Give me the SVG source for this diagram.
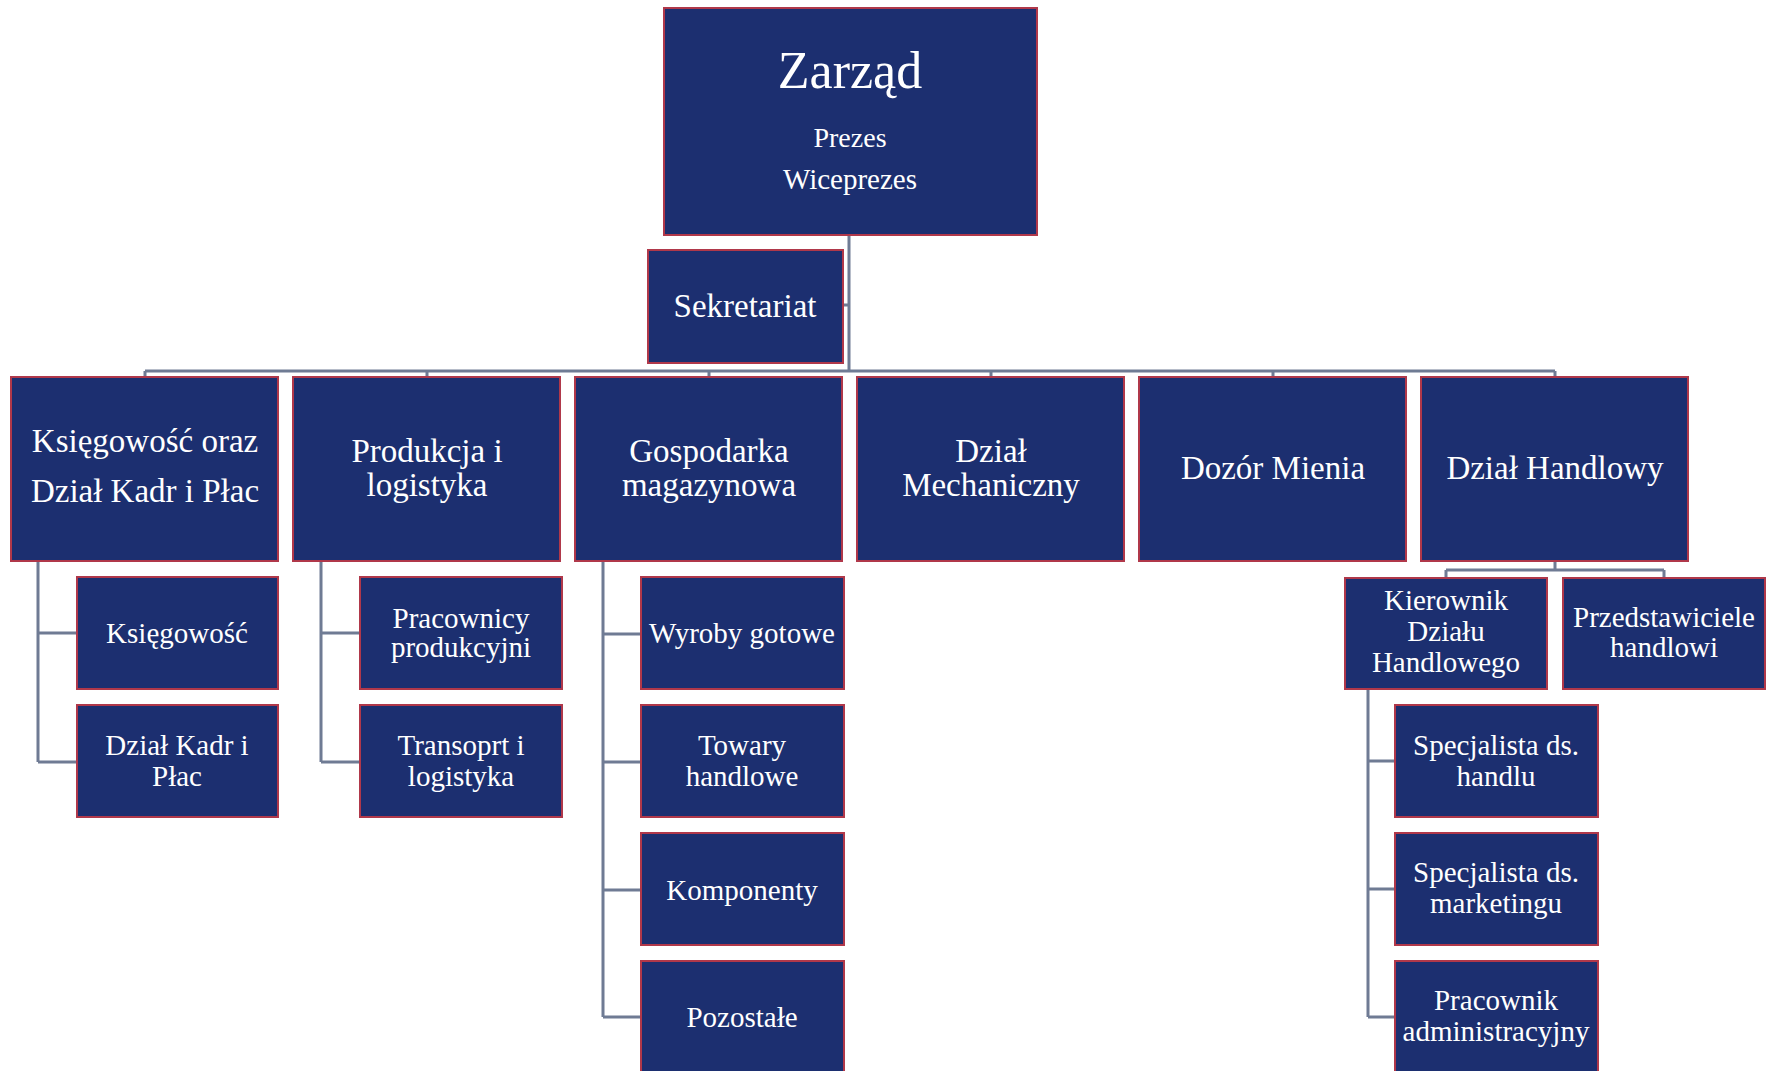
<svg xmlns="http://www.w3.org/2000/svg" width="1777" height="1071" viewBox="0 0 1777 1071">
<style>
.box{fill:#1c2f70;stroke:#b0384a;stroke-width:2}
.t{fill:#ffffff;font-family:"Liberation Serif","DejaVu Serif",serif;text-anchor:middle}
.l1{font-size:33px}
.l2{font-size:29px}
.c{fill:none;stroke:#6f7b94;stroke-width:3}
</style>
<rect width="1777" height="1071" fill="#ffffff"/>
<g id="connectors">
<path class="c" d="M849,235 V371 M843,305 H849 M145,371 H1555"/>
<path class="c" d="M145,371 V377 M427,371 V377 M709,371 V377 M991,371 V377 M1273,371 V377 M1555,371 V377"/>
<path class="c" d="M38,561 V762 M38,633 H77 M38,762 H77"/>
<path class="c" d="M321,561 V762 M321,633 H360 M321,762 H360"/>
<path class="c" d="M603,561 V1017 M603,634 H641 M603,762 H641 M603,890 H641 M603,1017 H641"/>
<path class="c" d="M1555,561 V570 M1446,570 H1664 M1446,570 V578 M1664,570 V578"/>
<path class="c" d="M1368,689 V1017 M1368,761 H1395 M1368,889 H1395 M1368,1017 H1395"/>
</g>
<g id="zarzad"><rect class="box" x="664" y="8" width="373" height="227"/>
<text class="t" x="850" y="88" font-size="52">Zarząd</text>
<text class="t" x="850" y="147" font-size="28">Prezes</text>
<text class="t" x="850" y="189" font-size="29">Wiceprezes</text></g>
<g id="sekretariat"><rect class="box" x="648" y="250" width="195" height="113"/>
<text class="t l1" x="745" y="317">Sekretariat</text></g>

<g id="ksiegowosc-oraz"><rect class="box" x="11" y="377" width="267" height="184"/>
<text class="t l1" x="145" y="452">Księgowość oraz</text>
<text class="t l1" x="145" y="502">Dział Kadr i Płac</text></g>
<g id="produkcja"><rect class="box" x="293" y="377" width="267" height="184"/>
<text class="t l1" x="427" y="462">Produkcja i</text>
<text class="t l1" x="427" y="496">logistyka</text></g>
<g id="gospodarka"><rect class="box" x="575" y="377" width="267" height="184"/>
<text class="t l1" x="709" y="462">Gospodarka</text>
<text class="t l1" x="709" y="496">magazynowa</text></g>
<g id="mechaniczny"><rect class="box" x="857" y="377" width="267" height="184"/>
<text class="t l1" x="991" y="462">Dział</text>
<text class="t l1" x="991" y="496">Mechaniczny</text></g>
<g id="dozor"><rect class="box" x="1139" y="377" width="267" height="184"/>
<text class="t l1" x="1273" y="479">Dozór Mienia</text></g>
<g id="handlowy"><rect class="box" x="1421" y="377" width="267" height="184"/>
<text class="t l1" x="1555" y="479">Dział Handlowy</text></g>

<g id="ksiegowosc"><rect class="box" x="77" y="577" width="201" height="112"/>
<text class="t l2" x="177" y="643">Księgowość</text></g>
<g id="kadr"><rect class="box" x="77" y="705" width="201" height="112"/>
<text class="t l2" x="177" y="755">Dział Kadr i</text>
<text class="t l2" x="177" y="786">Płac</text></g>
<g id="pracownicy"><rect class="box" x="360" y="577" width="202" height="112"/>
<text class="t l2" x="461" y="628">Pracownicy</text>
<text class="t l2" x="461" y="657">produkcyjni</text></g>
<g id="transport"><rect class="box" x="360" y="705" width="202" height="112"/>
<text class="t l2" x="461" y="755">Transoprt i</text>
<text class="t l2" x="461" y="786">logistyka</text></g>
<g id="wyroby"><rect class="box" x="641" y="577" width="203" height="112"/>
<text class="t l2" x="742" y="643">Wyroby gotowe</text></g>
<g id="towary"><rect class="box" x="641" y="705" width="203" height="112"/>
<text class="t l2" x="742" y="755">Towary</text>
<text class="t l2" x="742" y="786">handlowe</text></g>
<g id="komponenty"><rect class="box" x="641" y="833" width="203" height="112"/>
<text class="t l2" x="742" y="900">Komponenty</text></g>
<g id="pozostale"><rect class="box" x="641" y="961" width="203" height="112"/>
<text class="t l2" x="742" y="1027">Pozostałe</text></g>

<g id="kierownik"><rect class="box" x="1345" y="578" width="202" height="111"/>
<text class="t l2" x="1446" y="610">Kierownik</text>
<text class="t l2" x="1446" y="641">Działu</text>
<text class="t l2" x="1446" y="672">Handlowego</text></g>
<g id="przedstawiciele"><rect class="box" x="1563" y="578" width="202" height="111"/>
<text class="t l2" x="1664" y="627">Przedstawiciele</text>
<text class="t l2" x="1664" y="657">handlowi</text></g>
<g id="spec-handlu"><rect class="box" x="1395" y="705" width="203" height="112"/>
<text class="t l2" x="1496" y="755">Specjalista ds.</text>
<text class="t l2" x="1496" y="786">handlu</text></g>
<g id="spec-marketingu"><rect class="box" x="1395" y="833" width="203" height="112"/>
<text class="t l2" x="1496" y="882">Specjalista ds.</text>
<text class="t l2" x="1496" y="913">marketingu</text></g>
<g id="pracownik-adm"><rect class="box" x="1395" y="961" width="203" height="112"/>
<text class="t l2" x="1496" y="1010">Pracownik</text>
<text class="t l2" x="1496" y="1041">administracyjny</text></g>
</svg>
